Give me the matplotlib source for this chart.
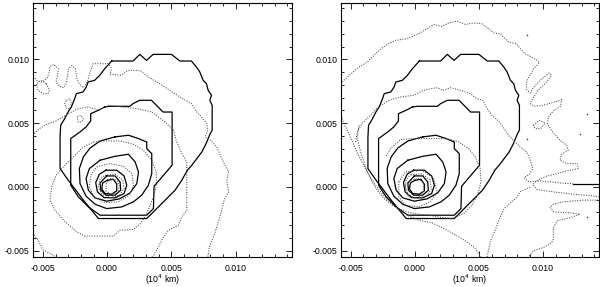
import numpy as np
import matplotlib
matplotlib.use("Agg")
import matplotlib.pyplot as plt

plt.rcParams['font.family'] = ['Liberation Sans', 'DejaVu Sans']
plt.rcParams['axes.unicode_minus'] = False

# contour paths, units of 1e-3 (x, y)
# solid contours (same in both panels)
s1 = [(0.36, 9.87), (2.02, 9.87), (2.54, 10.39), (3.06, 9.92), (3.58, 10.39), (5.0, 10.39),
      (5.65, 9.87), (6.55, 9.87), (6.94, 9.40), (7.20, 9.01), (7.46, 8.36), (7.72, 8.09),
      (7.85, 7.57), (8.11, 7.18), (7.98, 6.79), (8.16, 6.40), (8.16, 4.44), (8.01, 4.18),
      (7.69, 3.39), (7.36, 2.74), (6.97, 2.22), (6.58, 1.70), (6.24, 1.31), (5.80, 0.52),
      (5.28, -0.26), (4.51, -1.04), (3.73, -1.83), (3.08, -2.48), (-0.67, -2.48),
      (-1.84, -1.04), (-3.01, 0.52), (-3.65, 1.44), (-3.65, 3.92), (-3.60, 4.83),
      (-3.29, 5.35), (-3.03, 5.87), (-2.77, 6.27), (-2.51, 6.92), (-2.38, 7.31),
      (-1.87, 7.44), (-1.61, 7.83), (-1.48, 8.22), (-0.96, 8.36), (-0.57, 8.75),
      (-0.18, 9.27)]
s2 = [(-0.18, 6.27), (0.21, 6.32), (1.76, 6.32), (2.02, 6.53), (2.54, 6.79), (3.45, 6.79),
      (3.96, 6.27), (4.35, 5.87), (5.05, 5.87), (5.05, 1.70), (4.38, 0.91), (3.65, 0.05),
      (3.60, -1.70), (3.08, -2.22), (-0.54, -2.22), (-1.45, -1.57), (-2.23, -0.78),
      (-2.82, 0.13), (-2.82, 3.79), (-2.10, 4.31), (-1.63, 4.70), (-1.27, 5.17),
      (-1.27, 5.74), (-0.67, 6.01)]
s3 = [(0.62, 3.92), (1.66, 4.05), (2.44, 3.79), (3.08, 3.52), (3.08, 3.00), (3.47, 2.61),
      (3.47, 1.04), (3.21, 0.13), (2.69, -0.65), (2.05, -1.17), (1.14, -1.57), (-0.03, -1.70),
      (-0.93, -1.36), (-1.63, -0.73), (-2.10, 0.26), (-2.15, 1.44), (-1.84, 2.35),
      (-1.32, 3.05), (-0.54, 3.60)]
s4 = [(-0.54, 2.09), (0.62, 2.40), (1.66, 2.56), (2.18, 1.96), (2.44, 1.17), (2.31, 0.26),
      (1.79, -0.47), (0.96, -0.94), (-0.03, -1.12), (-0.93, -0.86), (-1.45, -0.26),
      (-1.63, 0.65), (-1.37, 1.44)]
s5 = [(-0.08, 1.31), (0.75, 1.31), (1.32, 0.86), (1.53, 0.13), (1.32, -0.52), (0.62, -0.86),
      (-0.23, -0.84), (-0.75, -0.39), (-0.88, 0.34), (-0.60, 0.99)]
s6 = [(-0.03, 0.86), (0.62, 0.86), (1.01, 0.39), (1.06, -0.26), (0.62, -0.65), (-0.08, -0.65),
      (-0.49, -0.26), (-0.54, 0.31)]
s7 = [(0.03, 0.52), (0.49, 0.60), (0.75, 0.21), (0.75, -0.31), (0.36, -0.57), (-0.16, -0.52),
      (-0.41, -0.16), (-0.34, 0.31)]
solid_closed = [s1, s2, s3, s4, s5, s6, s7]

# dotted contours, left panel
ld1 = [(-5.73, 8.67), (-5.41, 8.30), (-5.0, 8.22), (-4.64, 8.56), (-4.48, 9.01), (-4.43, 9.45),
       (-4.12, 9.61), (-3.78, 9.27), (-3.86, 8.67), (-3.96, 8.22), (-3.70, 7.89), (-3.39, 7.78),
       (-3.19, 8.09), (-3.08, 8.67), (-2.98, 9.27), (-2.72, 9.53), (-2.46, 9.27), (-2.36, 8.56),
       (-2.15, 8.04), (-1.84, 7.78), (-1.53, 8.22), (-1.32, 9.01), (-1.09, 9.66), (0.08, 9.66),
       (0.34, 9.27), (0.23, 8.83), (1.11, 8.75), (1.63, 9.14), (2.54, 9.14), (3.19, 8.62),
       (4.09, 8.09), (4.87, 7.57), (5.65, 7.05), (6.55, 6.53), (6.97, 5.87), (7.44, 5.35),
       (7.75, 4.96), (7.80, 4.44), (7.62, 3.92), (8.01, 3.66), (8.52, 3.13), (8.78, 2.48),
       (9.09, 1.83), (9.43, 1.17), (9.30, 0.52), (9.43, -0.39), (9.09, -1.04), (8.83, -2.09),
       (8.52, -3.13), (8.26, -3.92), (7.95, -4.70), (7.80, -5.60)]
ld2 = [(-5.80, 4.05), (-5.26, 4.57), (-4.69, 4.91), (-3.96, 5.17), (-3.52, 5.43), (-3.01, 5.74),
       (-2.23, 6.14), (-1.45, 6.27), (-0.67, 6.01), (0.10, 6.40), (1.14, 6.27), (2.31, 6.14),
       (3.47, 5.87), (4.51, 5.09), (5.16, 4.44), (5.36, 3.66), (5.80, 2.61), (6.19, 1.96),
       (6.19, -1.83), (5.80, -2.35), (5.54, -3.0), (4.77, -3.39), (4.38, -3.92), (3.99, -4.70),
       (3.47, -5.60)]
ld3 = [(-1.06, 3.52), (-0.54, 3.60), (1.01, 3.60), (2.05, 3.34), (2.82, 2.87), (3.47, 2.09),
       (3.81, 1.17), (3.86, 0.26), (3.65, -0.65), (3.29, -1.57), (2.95, -2.35), (2.56, -2.92),
       (2.05, -3.34), (1.01, -3.39), (0.49, -3.86), (-1.71, -3.86), (-2.36, -3.52),
       (-3.39, -2.61), (-4.04, -1.83), (-4.43, -1.04), (-4.30, 0.0), (-3.96, 0.91),
       (-3.52, 1.44), (-3.01, 1.96), (-2.49, 2.48), (-1.84, 3.13)]
ld4 = [(-0.80, 1.57), (0.23, 1.83), (1.27, 1.62), (1.92, 1.04), (2.05, 0.13), (1.74, -0.65),
       (0.88, -1.17), (-0.16, -1.23), (-1.01, -0.78), (-1.37, 0.0), (-1.27, 0.91)]
ld5 = [(-0.16, 0.91), (0.62, 0.99), (1.22, 0.52), (1.32, -0.13), (0.96, -0.65), (0.23, -0.84),
       (-0.41, -0.57), (-0.67, 0.0), (-0.54, 0.60)]
ld6 = [(0.23, 0.65), (0.75, 0.52), (0.96, 0.05), (0.80, -0.47), (0.28, -0.60), (-0.08, -0.31),
       (-0.08, 0.21)]
blob_a = [(-4.72, 8.09), (-4.46, 7.57), (-4.59, 7.31), (-4.97, 7.31), (-5.36, 7.57),
          (-5.49, 8.09), (-5.10, 8.36)]
blob_b = [(-3.16, 6.79), (-2.90, 6.92), (-2.77, 6.53), (-2.90, 6.14), (-3.16, 6.14), (-3.29, 6.53)]
blob_c = [(-2.31, 5.48), (-2.05, 5.61), (-1.84, 5.35), (-1.97, 5.09), (-2.23, 5.09)]
ld_corner = [(-5.80, -3.60), (-5.34, -4.18), (-5.0, -4.91), (-4.17, -5.35), (-3.91, -5.60)]
left_open = [ld1, ld2, ld_corner]
left_closed = [ld3, ld4, ld5, ld6, blob_a, blob_b, blob_c]

# dotted contours, right panel
rd1 = [(-5.80, 8.10), (-5.0, 8.83), (-4.35, 9.40), (-3.70, 9.79), (-3.06, 10.44), (-2.28, 11.10),
       (-1.50, 11.49), (-0.60, 11.62), (0.31, 12.01), (0.96, 12.40), (1.48, 12.74), (2.12, 12.58),
       (2.64, 12.85), (3.29, 13.0), (3.94, 12.74), (4.59, 12.85), (5.23, 12.79), (5.75, 12.40),
       (6.19, 12.06), (6.66, 12.01), (6.97, 11.70), (7.31, 11.36), (7.90, 11.23), (8.16, 10.91),
       (8.60, 10.44), (9.12, 10.18), (9.56, 9.92), (9.72, 9.71), (9.38, 9.40), (9.12, 9.01),
       (8.86, 8.56), (8.68, 8.15), (8.73, 7.62), (8.99, 7.36), (9.25, 7.78), (9.77, 8.36),
       (10.49, 8.93), (10.67, 8.75), (10.16, 8.09), (9.56, 7.52), (9.25, 7.0), (8.99, 6.53),
       (9.30, 6.32), (10.03, 6.40), (10.93, 6.66), (11.45, 6.84), (11.37, 6.32), (10.80, 5.95),
       (10.41, 5.48), (10.34, 4.91), (10.80, 4.23), (11.32, 3.66), (11.84, 3.26), (11.97, 2.87),
       (11.45, 2.56), (11.32, 2.09), (11.84, 1.83), (12.67, 1.83), (12.75, 1.44), (11.84, 1.25),
       (11.06, 1.04), (10.28, 0.84), (9.56, 0.52), (9.20, 0.21), (9.51, -0.21), (10.80, -0.39),
       (12.36, -0.57), (13.65, -0.68), (14.5, -0.78)]
rd1b = [(14.5, -1.04), (13.13, -1.04), (11.58, -1.17), (10.80, -1.36), (10.54, -1.62),
        (10.85, -1.96), (12.10, -2.04), (12.88, -2.14), (12.15, -2.40), (11.11, -2.66),
        (10.80, -3.19), (10.80, -4.18), (10.54, -4.49), (10.03, -4.75), (9.25, -5.01),
        (8.78, -5.60)]
rd2 = [(-4.61, 3.52), (-4.48, 4.31), (-4.09, 5.01), (-3.58, 5.48), (-2.93, 6.21), (-2.02, 6.79),
       (-1.11, 7.05), (-0.08, 7.18), (0.70, 7.57), (1.27, 7.70), (1.79, 7.78), (2.20, 7.57),
       (2.77, 7.78), (3.55, 7.57), (4.33, 7.31), (4.84, 6.92), (5.31, 6.79), (5.57, 6.27),
       (6.01, 5.61), (6.53, 5.17), (6.97, 4.57), (7.31, 4.05), (7.69, 3.66), (8.21, 3.13),
       (8.73, 2.74), (8.99, 2.14), (9.20, 1.44), (8.94, 0.99), (8.52, 0.73), (8.89, 0.39),
       (9.77, 0.47), (10.80, 0.37), (11.84, 0.26), (12.36, 0.26)]
edge_solid = [(12.36, 0.26), (14.5, 0.26)]
rd3 = [(-5.80, 5.74), (-5.52, 4.96), (-5.13, 4.18), (-4.79, 3.39), (-4.43, 2.56), (-4.02, 1.78),
       (-3.63, 1.04), (-3.19, 0.31), (-2.67, -0.39), (-2.10, -1.04), (-1.37, -1.70), (-0.60, -2.22),
       (0.31, -2.61), (1.35, -2.82), (2.25, -3.26), (3.08, -3.71), (3.94, -4.23), (4.64, -4.75),
       (5.23, -5.60)]
rd4 = [(-4.35, 4.83), (-4.48, 3.79), (-4.22, 2.74), (-3.83, 1.57), (-3.45, 0.65), (-2.93, -0.26),
       (-2.41, -0.91), (-1.76, -1.44), (-0.98, -1.83), (-0.08, -2.09), (1.09, -2.22), (2.12, -2.40),
       (2.90, -2.48), (3.81, -2.09), (4.46, -1.44), (4.90, -0.65), (5.16, 0.39), (5.10, 1.44),
       (4.72, 2.35), (4.20, 3.0), (3.42, 3.52), (2.51, 3.79), (1.48, 3.79), (0.05, 3.79),
       (-1.11, 3.71), (-1.89, 3.0), (-2.28, 2.35)]
rd5 = [(8.99, 0.0), (8.21, -0.39), (7.95, -0.84), (7.56, -1.17), (6.97, -1.70), (6.61, -2.48),
       (6.27, -3.39), (5.88, -4.31), (5.62, -5.60)]
rd6 = [(-1.24, 0.39), (-0.73, 1.17), (0.57, 1.31), (1.48, 0.65), (1.74, -0.39), (1.22, -1.17),
       (0.31, -1.57), (-0.73, -1.44), (-1.24, -0.78)]
rd7 = [(-0.30, 0.95), (0.55, 1.02), (1.18, 0.55), (1.30, -0.15), (0.92, -0.70), (0.15, -0.90),
       (-0.50, -0.60), (-0.78, 0.02), (-0.64, 0.62)]
rd8 = [(-0.73, 0.13), (-0.34, 0.52), (0.31, 0.65), (0.70, 0.26), (0.70, -0.52), (0.18, -0.91),
       (-0.47, -0.78), (-0.73, -0.39)]
diamond = [(9.25, 4.83), (9.72, 5.22), (10.16, 5.01), (9.82, 4.57), (9.38, 4.57)]
dots_x = [8.73, 13.39, 12.88, 8.73, 13.39]
dots_y = [11.88, 5.74, 4.18, 3.79, -2.35]
right_open = [rd1, rd1b, rd2, rd3, rd4, rd5]
right_closed = [rd6, rd7, rd8, diamond]

xlim = (-0.00575, 0.01436)
ylim = (-0.00552, 0.01444)
dot_style = dict(color='#4a4a4a', lw=0.75, ls=(0, (1.0, 1.4)))


def draw(ax, pts, closed, **kw):
    a = np.array(pts) * 1e-3
    if closed:
        a = np.vstack([a, a[:1]])
    ax.plot(a[:, 0], a[:, 1], **kw)


def setup(ax):
    ax.set_xlim(*xlim)
    ax.set_ylim(*ylim)
    ax.set_xticks([-0.005, 0.0, 0.005, 0.010])
    ax.set_xticklabels(['-0.005', '0.000', '0.005', '0.010'])
    ax.set_yticks([-0.005, 0.0, 0.005, 0.010])
    ax.set_yticklabels(['-0.005', '0.000', '0.005', '0.010'])
    ax.set_xticks(np.arange(-0.005, 0.0145, 0.001), minor=True)
    ax.set_yticks(np.arange(-0.005, 0.0145, 0.001), minor=True)
    ax.tick_params(which='both', direction='in', top=True, right=True, labelsize=6.3,
                   width=0.6)
    ax.tick_params(axis='x', pad=4.5)
    ax.tick_params(axis='y', pad=2.5)
    ax.tick_params(which='major', length=4.5)
    ax.tick_params(which='minor', length=2.3)
    for sp in ax.spines.values():
        sp.set_linewidth(0.8)
    ax.set_xlabel('(10$^4$ km)', fontsize=6.3, labelpad=0.3)


fig = plt.figure(figsize=(6.0, 2.87), dpi=100)
ax1 = fig.add_axes([0.055, 0.1035, 0.4317, 0.887])
ax2 = fig.add_axes([0.5683, 0.1035, 0.4300, 0.887])

for ax, opens, closeds in [(ax1, left_open, left_closed), (ax2, right_open, right_closed)]:
    for c in solid_closed:
        draw(ax, c, True, color='black', lw=0.9)
    for c in opens:
        draw(ax, c, False, **dot_style)
    for c in closeds:
        draw(ax, c, True, **dot_style)
    setup(ax)

draw(ax2, edge_solid, False, color='black', lw=0.9)
ax2.plot(np.array(dots_x) * 1e-3, np.array(dots_y) * 1e-3, 's', ms=1.0, color='#333333',
         mew=0)

fig.savefig('out.png', dpi=100)
